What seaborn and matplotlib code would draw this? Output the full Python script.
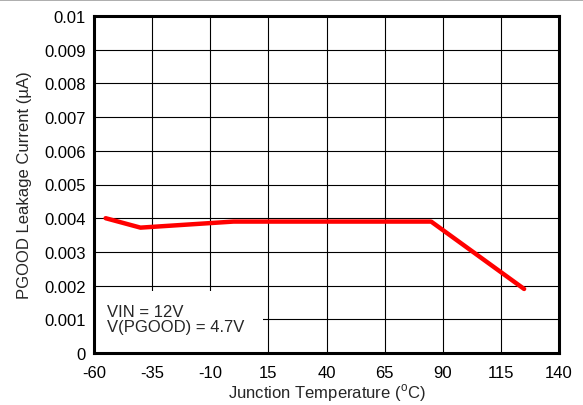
import numpy as np
import pandas as pd
import seaborn as sns
import matplotlib.pyplot as plt
from matplotlib.patches import Rectangle
from matplotlib.lines import Line2D

sns.set_style(style='white')
plt.rcParams['font.family'] = ['Liberation Sans', 'DejaVu Sans']
plt.rcParams['mathtext.fontset'] = 'custom'
plt.rcParams['mathtext.rm'] = 'Liberation Sans'

temperature = [-55, -40, 0, 25, 85, 125]
leakage = [0.0040, 0.00372, 0.0039, 0.0039, 0.0039, 0.0019]
x_ticks = [-60, -35, -10, 15, 40, 65, 90, 115, 140]
y_ticks = [0, 0.001, 0.002, 0.003, 0.004, 0.005, 0.006, 0.007, 0.008, 0.009, 0.01]
y_tick_labels = ['0', '0.001', '0.002', '0.003', '0.004', '0.005',
                 '0.006', '0.007', '0.008', '0.009', '0.01']

df = pd.DataFrame({'temp': temperature, 'leak': leakage})

FS = 12

fig = plt.figure(figsize=(5.83, 4.06), dpi=100)
ax = fig.add_axes([94 / 583, 1 - 354 / 406, 465 / 583, 337 / 406])

# thin gray border line along the top of the image
fig.add_artist(Line2D([0, 1], [0.998, 0.998], transform=fig.transFigure,
                      color='#a0a0a0', linewidth=1.2))

sns.lineplot(x='temp', y='leak', data=df, ax=ax, color='#ff0000',
             linewidth=3.2, zorder=3, sort=False)

ax.set_xlim(-60, 140)
ax.set_ylim(0, 0.01)
ax.set_xticks(x_ticks)
ax.set_xticklabels([str(t) for t in x_ticks], fontsize=FS)
ax.set_yticks(y_ticks)
ax.set_yticklabels(y_tick_labels, fontsize=FS)
ax.grid(True, color='black', linewidth=0.8)
ax.set_axisbelow(True)
for sp in ax.spines.values():
    sp.set_visible(True)
    sp.set_linewidth(2.2)
    sp.set_color('black')
ax.tick_params(axis='x', length=0, pad=8.5, colors='black')
ax.tick_params(axis='y', length=3, width=0.8, direction='out', pad=3, colors='black')

ax.set_xlabel(r'Junction Temperature ($^{\mathrm{o}}$C)', fontsize=FS, labelpad=1)
ax.set_ylabel('PGOOD Leakage Current (\u00b5A)', fontsize=FS, labelpad=9)

# white note box over the grid
ax.add_patch(Rectangle((-60, 0), 72.5, 0.00185, facecolor='white',
                       edgecolor='none', zorder=2.5))
ax.text(-54.5, 0.00055, 'VIN = 12V\nV(PGOOD) = 4.7V', fontsize=FS,
        ha='left', va='bottom', linespacing=1.05, zorder=4)

fig.savefig('out.png', dpi=100)
